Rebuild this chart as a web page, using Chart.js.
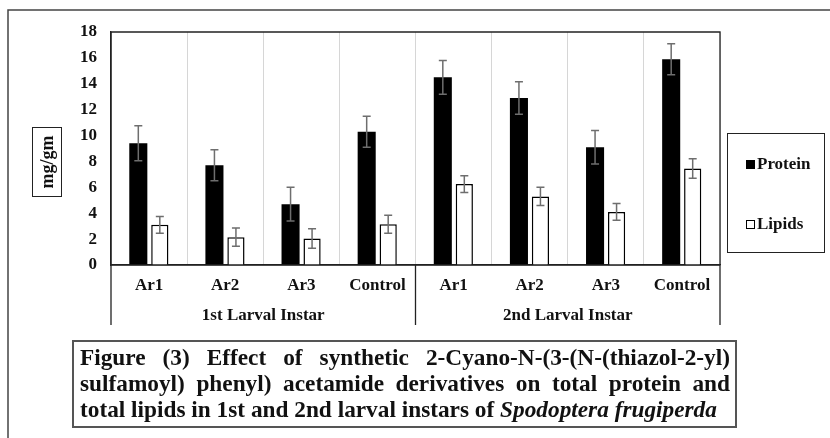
<!DOCTYPE html>
<html>
<head>
<meta charset="utf-8">
<script src="https://cdn.jsdelivr.net/npm/chart.js@4.4.1/dist/chart.umd.min.js"></script>
<style>
  html, body { margin: 0; padding: 0; background: #fff; }
  #wrap { position: relative; width: 830px; height: 438px; overflow: hidden; background: #fff; }
  #c { position: absolute; left: 0; top: 0; }
  .serif { font-family: "Liberation Serif", "Times New Roman", serif; font-weight: bold; color: #111; }
  #ytitle { position: absolute; left: 32px; top: 127px; width: 28px; height: 68px; border: 1.5px solid #222; }
  #ytitle span { position: absolute; left: 50%; top: 50%; transform: translate(-50%, -50%) rotate(-90deg); font-size: 18px; white-space: nowrap; }
  #legend { position: absolute; left: 727px; top: 133px; width: 96px; height: 118px; border: 1.5px solid #222; }
  .li { position: absolute; left: 18px; font-size: 17px; line-height: 20px; white-space: nowrap; }
  .sw { display: inline-block; width: 9px; height: 9px; margin-right: 2px; vertical-align: 0px; box-sizing: border-box; border: 1px solid #000; }
  #caption { position: absolute; left: 72px; top: 340px; width: 661px; height: 84px; border: 2px solid #555; }
  #captext { position: absolute; left: 6px; top: 2px; width: 650px; font-size: 23.3px; line-height: 26px; }
  .jl { text-align: justify; text-align-last: justify; white-space: nowrap; }
  .ll { text-align: left; white-space: nowrap; }
</style>
</head>
<body>
<div id="wrap">
  <canvas id="c" width="830" height="438"></canvas>
  <div id="ytitle" class="serif"><span id="ytitleText"></span></div>
  <div id="legend" class="serif"></div>
  <div id="caption" class="serif"><div id="captext"></div></div>
</div>
<script>
// ---- data ----
const categories = ['Ar1', 'Ar2', 'Ar3', 'Control', 'Ar1', 'Ar2', 'Ar3', 'Control'];
const groupLabels = ['1st Larval Instar', '2nd Larval Instar'];
const proteinValues = [9.4, 7.7, 4.7, 10.3, 14.5, 12.9, 9.1, 15.9];
const proteinErrors = [1.35, 1.2, 1.3, 1.2, 1.3, 1.25, 1.3, 1.2];
const lipidsValues = [3.1, 2.15, 2.05, 3.15, 6.25, 5.3, 4.1, 7.45];
const lipidsErrors = [0.65, 0.7, 0.75, 0.7, 0.65, 0.7, 0.65, 0.75];
const yMin = 0, yMax = 18, yStep = 2;
const seriesNames = ['Protein', 'Lipids'];
const yTitle = 'mg/gm';
const captionLines = [
  'Figure (3) Effect of synthetic 2-Cyano-N-(3-(N-(thiazol-2-yl)',
  'sulfamoyl) phenyl) acetamide derivatives on total protein and',
  'total lipids in 1st and 2nd larval instars of <i>Spodoptera frugiperda</i>'
];

// ---- html text ----
document.getElementById('ytitleText').textContent = yTitle;
const leg = document.getElementById('legend');
[['#000', '#000', 20], ['#fff', '#000', 80]].forEach((s, i) => {
  const d = document.createElement('div');
  d.className = 'li';
  d.style.top = s[2] + 'px';
  d.innerHTML = '<span class="sw" style="background:' + s[0] + ';border-color:' + s[1] + '"></span>' + seriesNames[i];
  leg.appendChild(d);
});
const ct = document.getElementById('captext');
captionLines.forEach((t, i) => {
  const d = document.createElement('div');
  d.className = i < captionLines.length - 1 ? 'jl' : 'll';
  d.innerHTML = t;
  ct.appendChild(d);
});

const FONT = '"Liberation Serif", "Times New Roman", serif';

const extras = {
  id: 'extras',
  afterDatasetsDraw(chart) {
    const ctx = chart.ctx;
    const y = chart.scales.y;
    const errs = [proteinErrors, lipidsErrors];
    ctx.save();
    ctx.strokeStyle = '#6e6e6e';
    ctx.lineWidth = 1.5;
    chart.data.datasets.forEach((ds, di) => {
      const meta = chart.getDatasetMeta(di);
      meta.data.forEach((bar, i) => {
        const v = ds.data[i], e = errs[di][i];
        const yt = y.getPixelForValue(v + e), yb = y.getPixelForValue(v - e);
        const x = bar.x, cw = 4;
        ctx.beginPath();
        ctx.moveTo(x, yt); ctx.lineTo(x, yb);
        ctx.moveTo(x - cw, yt); ctx.lineTo(x + cw, yt);
        ctx.moveTo(x - cw, yb); ctx.lineTo(x + cw, yb);
        ctx.stroke();
      });
    });
    ctx.restore();
  },
  afterDraw(chart) {
    const ctx = chart.ctx;
    const a = chart.chartArea;
    const x = chart.scales.x;
    ctx.save();
    // outer frame (top + left)
    ctx.strokeStyle = '#444';
    ctx.lineWidth = 1.5;
    ctx.beginPath();
    ctx.moveTo(8, 440); ctx.lineTo(8, 10); ctx.lineTo(832, 10);
    ctx.stroke();
    // plot border
    ctx.strokeStyle = '#222';
    ctx.lineWidth = 1.3;
    const sepBottom = 325;
    ctx.beginPath();
    ctx.moveTo(a.left, sepBottom); ctx.lineTo(a.left, a.top); ctx.lineTo(a.right, a.top); ctx.lineTo(a.right, sepBottom);
    ctx.moveTo(a.left, a.bottom); ctx.lineTo(a.right, a.bottom);
    // group separator
    const half = categories.length / 2;
    const sx = (x.getPixelForValue(half - 1) + x.getPixelForValue(half)) / 2;
    ctx.moveTo(sx, a.bottom); ctx.lineTo(sx, sepBottom);
    ctx.stroke();
    // group labels
    ctx.fillStyle = '#111';
    ctx.font = 'bold 17px ' + FONT;
    ctx.textAlign = 'center';
    ctx.textBaseline = 'middle';
    ctx.fillText(groupLabels[0], (a.left + sx) / 2, 316);
    ctx.fillText(groupLabels[1], (sx + a.right) / 2, 316);
    ctx.restore();
  }
};

new Chart(document.getElementById('c'), {
  type: 'bar',
  data: {
    labels: categories,
    datasets: [
      { label: seriesNames[0], data: proteinValues, backgroundColor: '#000', borderColor: '#000', borderWidth: 0,
        categoryPercentage: 0.565, barPercentage: 0.84 },
      { label: seriesNames[1], data: lipidsValues, backgroundColor: '#fff', borderColor: '#000', borderWidth: 1.5,
        categoryPercentage: 0.565, barPercentage: 0.8 }
    ]
  },
  options: {
    responsive: false,
    devicePixelRatio: 1,
    animation: false,
    layout: { padding: { left: 0, top: 32, right: 110, bottom: 0 } },
    plugins: { legend: { display: false }, tooltip: { enabled: false }, title: { display: false } },
    scales: {
      x: {
        grid: { display: true, color: '#d6d6d6', lineWidth: 1, drawTicks: false, offset: true },
        border: { display: true, color: '#222', width: 1.3 },
        ticks: { color: '#111', font: { family: FONT, weight: 'bold', size: 17 }, padding: 10, maxRotation: 0, autoSkip: false },
        afterFit(s) { s.height = 173; }
      },
      y: {
        min: yMin, max: yMax,
        grid: { display: false, drawTicks: false },
        border: { display: true, color: '#222', width: 1.3 },
        ticks: { stepSize: yStep, color: '#111', font: { family: FONT, weight: 'bold', size: 17 }, padding: 14 },
        afterFit(s) { s.width = 111; }
      }
    }
  },
  plugins: [extras]
});
</script>
</body>
</html>
